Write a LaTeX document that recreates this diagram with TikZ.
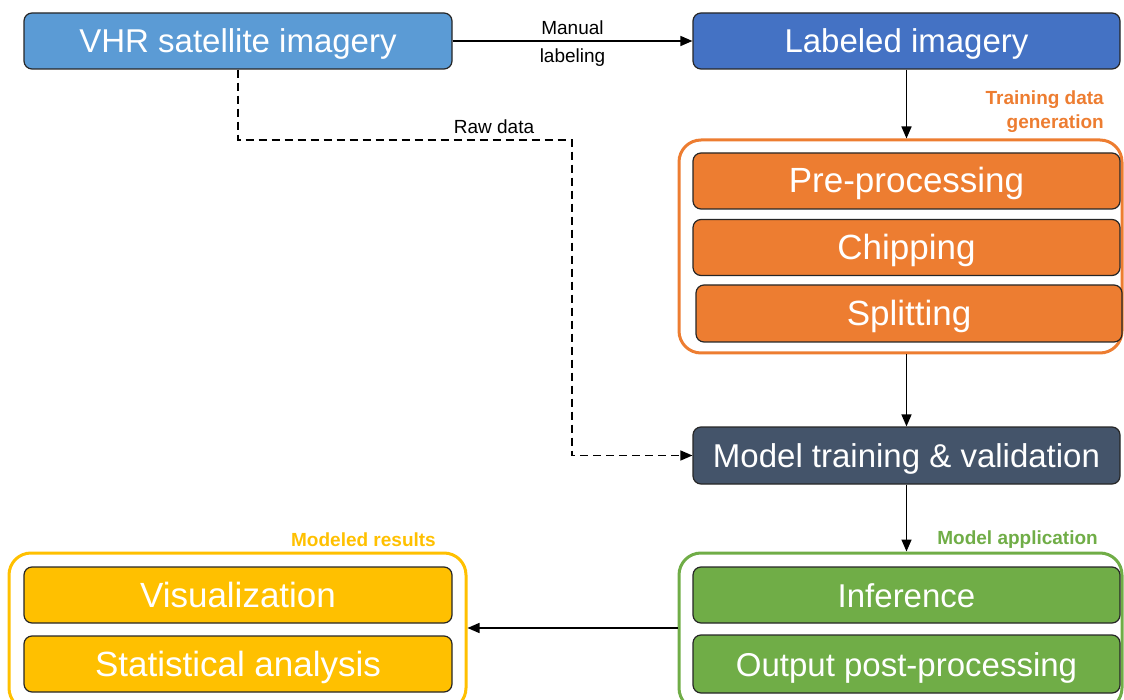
\documentclass[tikz,border=0pt]{standalone}
\usepackage{fontspec}
\setmainfont{Liberation Sans}
\usetikzlibrary{arrows.meta}
\definecolor{skyblue}{HTML}{5B9BD5}
\definecolor{royal}{HTML}{4472C4}
\definecolor{tangerine}{HTML}{ED7D31}
\definecolor{slate}{HTML}{44546A}
\definecolor{leaf}{HTML}{70AD47}
\definecolor{amber}{HTML}{FFC000}
\tikzset{
  stage/.style={draw=black!85, line width=1.2pt, rounded corners=8pt, inner sep=0pt,
    text=white, font=\fontsize{33}{40}\selectfont, text height=24pt, text depth=0pt,
    minimum width=427pt, minimum height=56pt},
  widetext/.style={font=\fontsize{35}{42}\selectfont},
  group/.style={draw=#1, line width=3pt, rounded corners=22pt, inner sep=0pt},
  flow/.style={line width=1.5pt, -{Triangle[length=12pt,width=10pt]}},
  rawflow/.style={flow, dash pattern=on 8pt off 5pt},
  small/.style={font=\fontsize{19}{24}\selectfont, inner sep=0pt},
  grouptitle/.style={font=\bfseries\fontsize{19}{24}\selectfont, inner sep=0pt, text=#1}
}
\begin{document}
\begin{tikzpicture}[x=1pt,y=-1pt]
\useasboundingbox (0,0) rectangle (1124,700);

% group frames
\node[group=tangerine, minimum width=443pt, minimum height=213pt] (prep) at (900.5,246.5) {};
\node[group=leaf, minimum width=443pt, minimum height=157pt] (apply) at (900.5,631.5) {};
\node[group=amber, minimum width=457pt, minimum height=157pt] (results) at (237.5,631.5) {};

% stages
\node[stage, fill=skyblue, minimum width=428pt] (vhr) at (238,41) {VHR satellite imagery};
\node[stage, fill=royal] (lab) at (906.5,41) {Labeled imagery};
\node[stage, widetext, fill=tangerine] (pre) at (906.5,181) {Pre-processing};
\node[stage, widetext, fill=tangerine] (chip) at (906.5,247.5) {Chipping};
\node[stage, widetext, fill=tangerine, minimum width=426pt, minimum height=57pt] (split) at (909,313.5) {Splitting};
\node[stage, fill=slate, minimum height=57pt] (train) at (906.5,455.5) {Model training \& validation};
\node[stage, fill=leaf] (inf) at (906.5,595) {Inference};
\node[stage, fill=leaf, minimum height=58pt] (post) at (906.5,664) {Output post-processing};
\node[stage, widetext, fill=amber, minimum width=428pt] (vis) at (238,595) {Visualization};
\node[stage, widetext, fill=amber, minimum width=428pt] (stat) at (238,664) {Statistical analysis};

% group titles
\node[grouptitle=tangerine, anchor=east, align=right] (prept) at (1104,112) {Training data\\[0pt]generation};
\node[grouptitle=leaf, anchor=east] (applyt) at (1098,540) {Model application};
\node[grouptitle=amber, anchor=east] (resultst) at (436,540) {Modeled results};

% connectors
\draw[flow] (vhr.east) -- node[small, above=6pt] {Manual} node[small, below=7pt] {labeling} (lab.west);
\draw[flow] (lab.south) -- (lab.south |- prep.north);
\draw[flow] (train.north |- prep.south) -- (train.north);
\draw[flow] (train.south) -- (train.south |- apply.north);
\draw[flow] (apply.west |- 0,628) coordinate (fromapp) -- (fromapp -| results.east);

\coordinate (rawbend) at (572,140);
\draw[rawflow] (vhr.south) |- (rawbend) |- (train.west);
\node[small] (rawt) at (494,127) {Raw data};
\end{tikzpicture}
\end{document}
